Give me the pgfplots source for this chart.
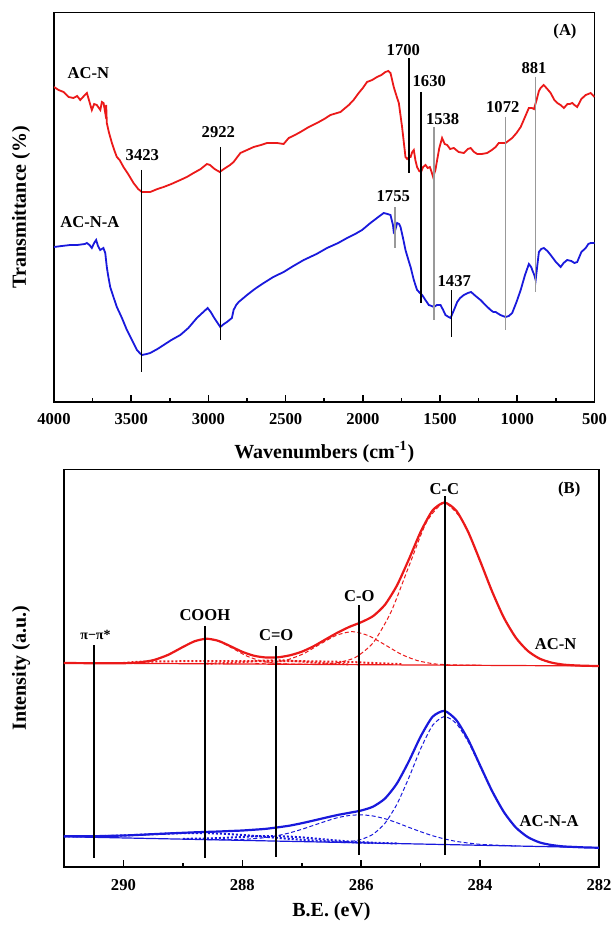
\documentclass[border=0pt]{standalone}
\usepackage{fontspec}
\setmainfont{Liberation Serif}
\usepackage{pgfplots}
\pgfplotsset{compat=1.18}
\definecolor{ftred}{RGB}{235,25,25}
\definecolor{ftblue}{RGB}{25,25,220}
\newcommand\lbl{\fontsize{8.3}{9.5}\selectfont\bfseries}
\newcommand\axl{\fontsize{10}{12}\selectfont\bfseries}

\pgfplotsset{
  panel/.style={
    scale only axis, anchor=south west, x dir=reverse,
    ytick=\empty, tick align=inside, xtick pos=left,
    major tick length=3.5pt, minor tick length=2pt,
    minor x tick num=1,
    axis line style={line width=0.8pt},
    every tick/.style={black, line width=0.8pt},
    xticklabel style={font=\lbl, yshift=-2.5pt},
    /pgf/number format/assume math mode=true,
    /pgf/number format/1000 sep={},
    xlabel style={anchor=center, font=\axl},
    ylabel style={anchor=center, font=\axl},
  },
  tot/.style={line width=1.1pt, smooth, tension=0.4},
  comp/.style={line width=0.5pt, dash pattern=on 2pt off 1.2pt, smooth, tension=0.4},
  dots/.style={line width=1pt, densely dotted, smooth, tension=0.4},
  mk/.style={black, line width=0.75pt},
  mkg/.style={gray!80, line width=0.6pt},
  mkb/.style={black, line width=1pt},
}

\begin{document}
\begin{tikzpicture}
\path[use as bounding box] (0,0) rectangle (305pt,-462.5pt);

% ---------------- (A) FTIR ----------------
\begin{axis}[panel,
  at={(27pt,-200.85pt)}, width=270.25pt, height=194.6pt,
  xmin=500, xmax=4000, ymin=-1.7, ymax=387.5,
  xtick={500,1000,...,4000},
  xlabel={Wavenumbers (cm\textsuperscript{-1})},
  ylabel={Transmittance (\%)},
  xlabel style={at={(axis description cs:0.5,-0.129)}},
  ylabel style={at={(axis description cs:-0.061,0.5)}},
]
\addplot[ftred, line width=0.9pt] coordinates {
(4000,313) (3970,310) (3938,308) (3905,303) (3874,302) (3850,304) (3830,300)
(3800,305) (3787,307) (3770,298) (3755,290) (3740,296) (3723,295) (3700,290)
(3690,298) (3679,297) (3668,287) (3662,295) (3658,277) (3645,268) (3625,257)
(3610,250) (3593,243) (3575,240) (3550,233) (3520,226) (3485,217) (3455,211)
(3431,208) (3400,208) (3377,208) (3330,211) (3290,213) (3240,216) (3182,220)
(3140,223) (3096,227) (3050,231) (3010,236) (2990,235) (2960,231) (2927,228)
(2900,231) (2880,233) (2860,235) (2837,238) (2793,247) (2750,250) (2707,253)
(2660,255) (2621,257) (2556,257) (2513,256) (2480,262) (2440,265) (2404,268)
(2350,273) (2297,277) (2250,281) (2210,285) (2145,288) (2091,295) (2060,300)
(2027,307) (2000,312) (1973,318) (1940,320) (1908,323) (1880,325) (1854,328)
(1835,329) (1821,327) (1800,313) (1780,303) (1767,297) (1746,273) (1735,258)
(1724,243) (1713,241) (1700,243) (1691,243) (1680,248) (1670,250) (1660,240)
(1649,233) (1635,229) (1623,228) (1610,233) (1594,235) (1580,232) (1566,233)
(1555,228) (1545,223) (1530,230) (1519,240) (1505,252) (1487,262) (1470,256)
(1454,255) (1435,251) (1411,252) (1380,248) (1346,247) (1320,251) (1302,252)
(1280,248) (1259,246) (1230,246) (1195,247) (1165,250) (1140,253) (1120,257)
(1108,257) (1076,257) (1050,260) (1033,262) (1005,267) (978,273) (950,283)
(925,292) (905,292) (892,291) (875,300) (860,309) (849,312) (830,315)
(817,313) (800,310) (784,307) (760,300) (741,297) (720,295) (698,292)
(675,296) (660,296) (644,297) (630,295) (612,293) (585,301) (557,305)
(540,306) (525,307) (500,303)};
\addplot[ftblue, line width=0.9pt] coordinates {
(4000,153) (3950,154) (3895,155) (3850,155) (3800,156) (3787,157) (3770,155)
(3755,152) (3740,157) (3727,160) (3715,154) (3701,150) (3680,152) (3668,147)
(3658,133) (3650,125) (3636,113) (3615,103) (3593,93) (3560,82) (3528,70)
(3495,60) (3463,50) (3445,47) (3431,45) (3400,46) (3377,47) (3330,51)
(3290,55) (3240,60) (3182,65) (3130,72) (3075,82) (3040,87) (3005,92)
(2985,88) (2966,83) (2945,78) (2923,73) (2900,76) (2880,78) (2848,82)
(2837,90) (2820,95) (2804,98) (2750,105) (2700,111) (2642,117) (2580,123)
(2513,128) (2450,134) (2383,140) (2300,146) (2232,152) (2160,157) (2102,162)
(2050,166) (2005,170) (1951,177) (1900,183) (1865,187) (1840,186) (1821,185)
(1805,175) (1800,168) (1790,170) (1778,177) (1765,176) (1756,173) (1740,162)
(1724,150) (1705,140) (1691,133) (1670,120) (1649,110) (1630,107) (1616,105)
(1595,100) (1573,95) (1555,94) (1540,93) (1520,95) (1497,95) (1480,90)
(1465,85) (1445,83) (1432,82) (1410,90) (1389,98) (1370,102) (1346,105)
(1320,107) (1299,108) (1270,104) (1238,100) (1200,94) (1173,90) (1155,88)
(1140,88) (1110,85) (1076,83) (1055,84) (1033,87) (1005,98) (978,110)
(950,125) (925,136) (910,133) (903,130) (890,125) (881,120) (870,135)
(860,148) (845,151) (828,152) (805,149) (784,145) (750,138) (719,133)
(700,137) (677,140) (650,139) (630,137) (612,138) (585,148) (557,152)
(540,156) (525,157) (500,157)};
% peak markers
\addplot[mk] coordinates {(3432,230) (3432,28)};
\addplot[mk] coordinates {(2923,253) (2923,60)};
\addplot[mk] coordinates {(1701,342) (1701,227)};
\addplot[mk] coordinates {(1622,308) (1622,97)};
\addplot[mkg] coordinates {(1539,273) (1539,80)};
\addplot[mkg] coordinates {(1792,193) (1792,152)};
\addplot[mk] coordinates {(1427,110) (1427,63)};
\addplot[mkg] coordinates {(1075,283) (1075,70)};
\addplot[mkg] coordinates {(883,323) (883,108)};
\node[font=\lbl] at (axis cs:3428,245) {3423};
\node[font=\lbl] at (axis cs:2936,268) {2922};
\node[font=\lbl] at (axis cs:1738,350) {1700};
\node[font=\lbl] at (axis cs:1570,319) {1630};
\node[font=\lbl] at (axis cs:1483,281) {1538};
\node[font=\lbl] at (axis cs:1094,293) {1072};
\node[font=\lbl] at (axis cs:892,332) {881};
\node[font=\lbl] at (axis cs:1803,204) {1755};
\node[font=\lbl] at (axis cs:1408,119) {1437};
\node[font=\lbl] at (axis cs:3778,327) {AC-N};
\node[font=\lbl] at (axis cs:3767,178) {AC-N-A};
\node[font=\lbl] at (axis cs:691,368) {(A)};
\end{axis}

% ---------------- (B) XPS C1s ----------------
\begin{axis}[panel,
  at={(32pt,-433.5pt)}, width=267.5pt, height=198.85pt,
  xmin=282, xmax=291, ymin=0, ymax=397.7,
  xtick={282,284,...,290},
  xlabel={B.E. (eV)},
  ylabel={Intensity (a.u.)},
  xlabel style={at={(axis description cs:0.5,-0.113)}},
  ylabel style={at={(axis description cs:-0.080,0.5)}},
]
% AC-N
\addplot[ftred, line width=0.6pt] coordinates {(291,204) (282,201)};
\addplot[ftred, dots] coordinates {
(290.0,204.0) (289.7,205.3) (289.0,205.8) (288.0,206.0) (287.0,205.8)
(286.2,205.0) (285.8,204.0) (285.3,202.8)};
\addplot[ftred, dots] coordinates {
(288.6,203.3) (288.15,204.25) (287.9,205.3) (287.65,206.3) (287.4,206.7)
(287.15,206.1) (286.9,205.0) (286.65,203.8) (286.2,202.6)};
\addplot[ftred, comp] coordinates {
(289.95,203.9) (289.73,204.65) (289.5,206.9) (289.28,211.5) (289.05,218.5)
(288.83,225.4) (288.6,228.2) (288.38,225.2) (288.15,218.25) (287.93,211.1)
(287.7,206.3) (287.48,203.9) (287.25,203.0)};
\addplot[ftred, comp] coordinates {
(287.78,203.3) (287.51,204.3) (287.24,207.2) (286.97,213.3) (286.70,222.6)
(286.42,231.6) (286.15,235.4) (285.88,231.4) (285.60,222.2) (285.33,212.8)
(285.06,206.5) (284.79,203.3) (284.52,202.2) (284.0,201.7)};
\addplot[ftred, comp] coordinates {
(287.5,202.8) (286.7,202.9) (286.4,204.3) (286.1,209.5) (285.8,224.2)
(285.5,254.8) (285.2,300.4) (284.9,345.0) (284.6,363.9) (284.28,344.8)
(283.96,300.0) (283.64,254.1) (283.32,223.3) (283.0,208.4) (282.68,203.0)
(282.36,201.5) (282.0,201.0)};
\addplot[ftred, tot] coordinates {
(291,204.0) (290.5,203.8) (290,203.8) (289.75,204.5) (289.5,206.8)
(289.25,212.1) (289,220.0) (288.8,225.8) (288.6,228.3) (288.4,226.1)
(288.2,220.8) (288,215.2) (287.8,211.2) (287.6,209.5) (287.4,209.7)
(287.2,211.7) (287,215.3) (286.8,220.8) (286.6,227.6) (286.4,234.3)
(286.2,240.1) (286,244.8) (285.8,250.9) (285.6,262.3) (285.4,281.4)
(285.2,307.4) (285,335.2) (284.8,356.5) (284.6,364.5) (284.4,356.3)
(284.2,335.0) (284,306.1) (283.8,275.8) (283.6,249.3) (283.4,229.4)
(283.2,216.2) (283,208.4) (282.8,204.4) (282.6,202.4) (282.4,201.6)
(282.2,201.2) (282,201.0)};
% AC-N-A
\addplot[ftblue, line width=0.6pt] coordinates {(291,30.3) (282,19.3)};
\addplot[ftblue, dots] coordinates {
(291,30.66) (290.5,30.77) (290,31.5) (289.5,32.8) (289,33.84) (288.6,33.85)
(288.2,32.86) (287.8,31.1) (287.4,29.06) (287,27.2) (286.6,25.8)
(286.2,24.77) (285.8,24.0)};
\addplot[ftblue, dots] coordinates {
(289,28.2) (288.6,28.5) (288.2,29.46) (287.8,30.65) (287.4,30.9) (287,29.65)
(286.6,27.5) (286.2,25.55) (285.8,24.3) (285.4,23.5)};
\addplot[ftblue, comp] coordinates {
(289,27.9) (288.6,27.5) (288.2,27.4) (288,27.6) (287.8,28.35) (287.6,29.5)
(287.4,31.5) (287.2,34.2) (287,37.7) (286.8,41.7) (286.6,45.7) (286.4,49.3)
(286.2,51.5) (286,52.2) (285.8,51.0) (285.6,48.3) (285.4,44.3) (285.2,39.7)
(285,35.3) (284.8,31.3) (284.6,28.1) (284.4,25.6) (284.2,24.0) (284,22.7)
(283.8,22.0) (283.6,21.55) (283.4,21.1)};
\addplot[ftblue, comp] coordinates {
(286.6,25.0) (286.2,25.5) (286,27.6) (285.8,32.8) (285.6,43.8) (285.4,62.7)
(285.2,89.0) (285,118.2) (284.8,141.6) (284.6,150.5) (284.4,143.5)
(284.2,125.2) (284,100.6) (283.8,75.7) (283.6,54.7) (283.4,39.5)
(283.2,30.0) (283,24.6) (282.8,22.0) (282.6,20.6) (282.4,20.0)};
\addplot[ftblue, tot] coordinates {
(291,30.7) (290.5,30.8) (290,31.5) (289.75,32.1) (289.5,32.85) (289.25,33.56)
(289,34.2) (288.8,34.7) (288.6,35.1) (288.4,35.5) (288.2,36.0) (288,36.5)
(287.8,37.3) (287.6,38.2) (287.4,39.7) (287.2,41.4) (287,43.8) (286.8,46.5)
(286.6,49.3) (286.4,52.0) (286.2,54.2) (286,56.5) (285.8,60.4) (285.6,68.5)
(285.4,83.5) (285.2,105.5) (285,130.5) (284.8,150.2) (284.6,156.1)
(284.4,146.9) (284.2,127.2) (284,101.6) (283.8,76.2) (283.6,55.0)
(283.4,39.6) (283.2,30.0) (283,24.6) (282.8,22.0) (282.6,20.6)
(282.4,20.0) (282.2,19.5) (282,19.3)};
% component markers
\addplot[mkb] coordinates {(290.50,222) (290.50,8.7)};
\addplot[mkb] coordinates {(288.63,241) (288.63,8.7)};
\addplot[mkb] coordinates {(287.44,221) (287.44,10.3)};
\addplot[mkb] coordinates {(286.04,262) (286.04,12)};
\addplot[mkb] coordinates {(284.585,371) (284.585,12)};
\node[font=\fontsize{7}{8}\selectfont\bfseries] at (axis cs:290.47,232) {π−π*};
\node[font=\lbl] at (axis cs:288.63,252) {COOH};
\node[font=\lbl] at (axis cs:287.43,232) {C=O};
\node[font=\lbl] at (axis cs:286.03,271) {C-O};
\node[font=\lbl] at (axis cs:284.6,377.7) {C-C};
\node[font=\lbl] at (axis cs:282.5,377) {(B)};
\node[font=\lbl] at (axis cs:282.73,223) {AC-N};
\node[font=\lbl] at (axis cs:282.84,46.3) {AC-N-A};
\end{axis}
\end{tikzpicture}
\end{document}
